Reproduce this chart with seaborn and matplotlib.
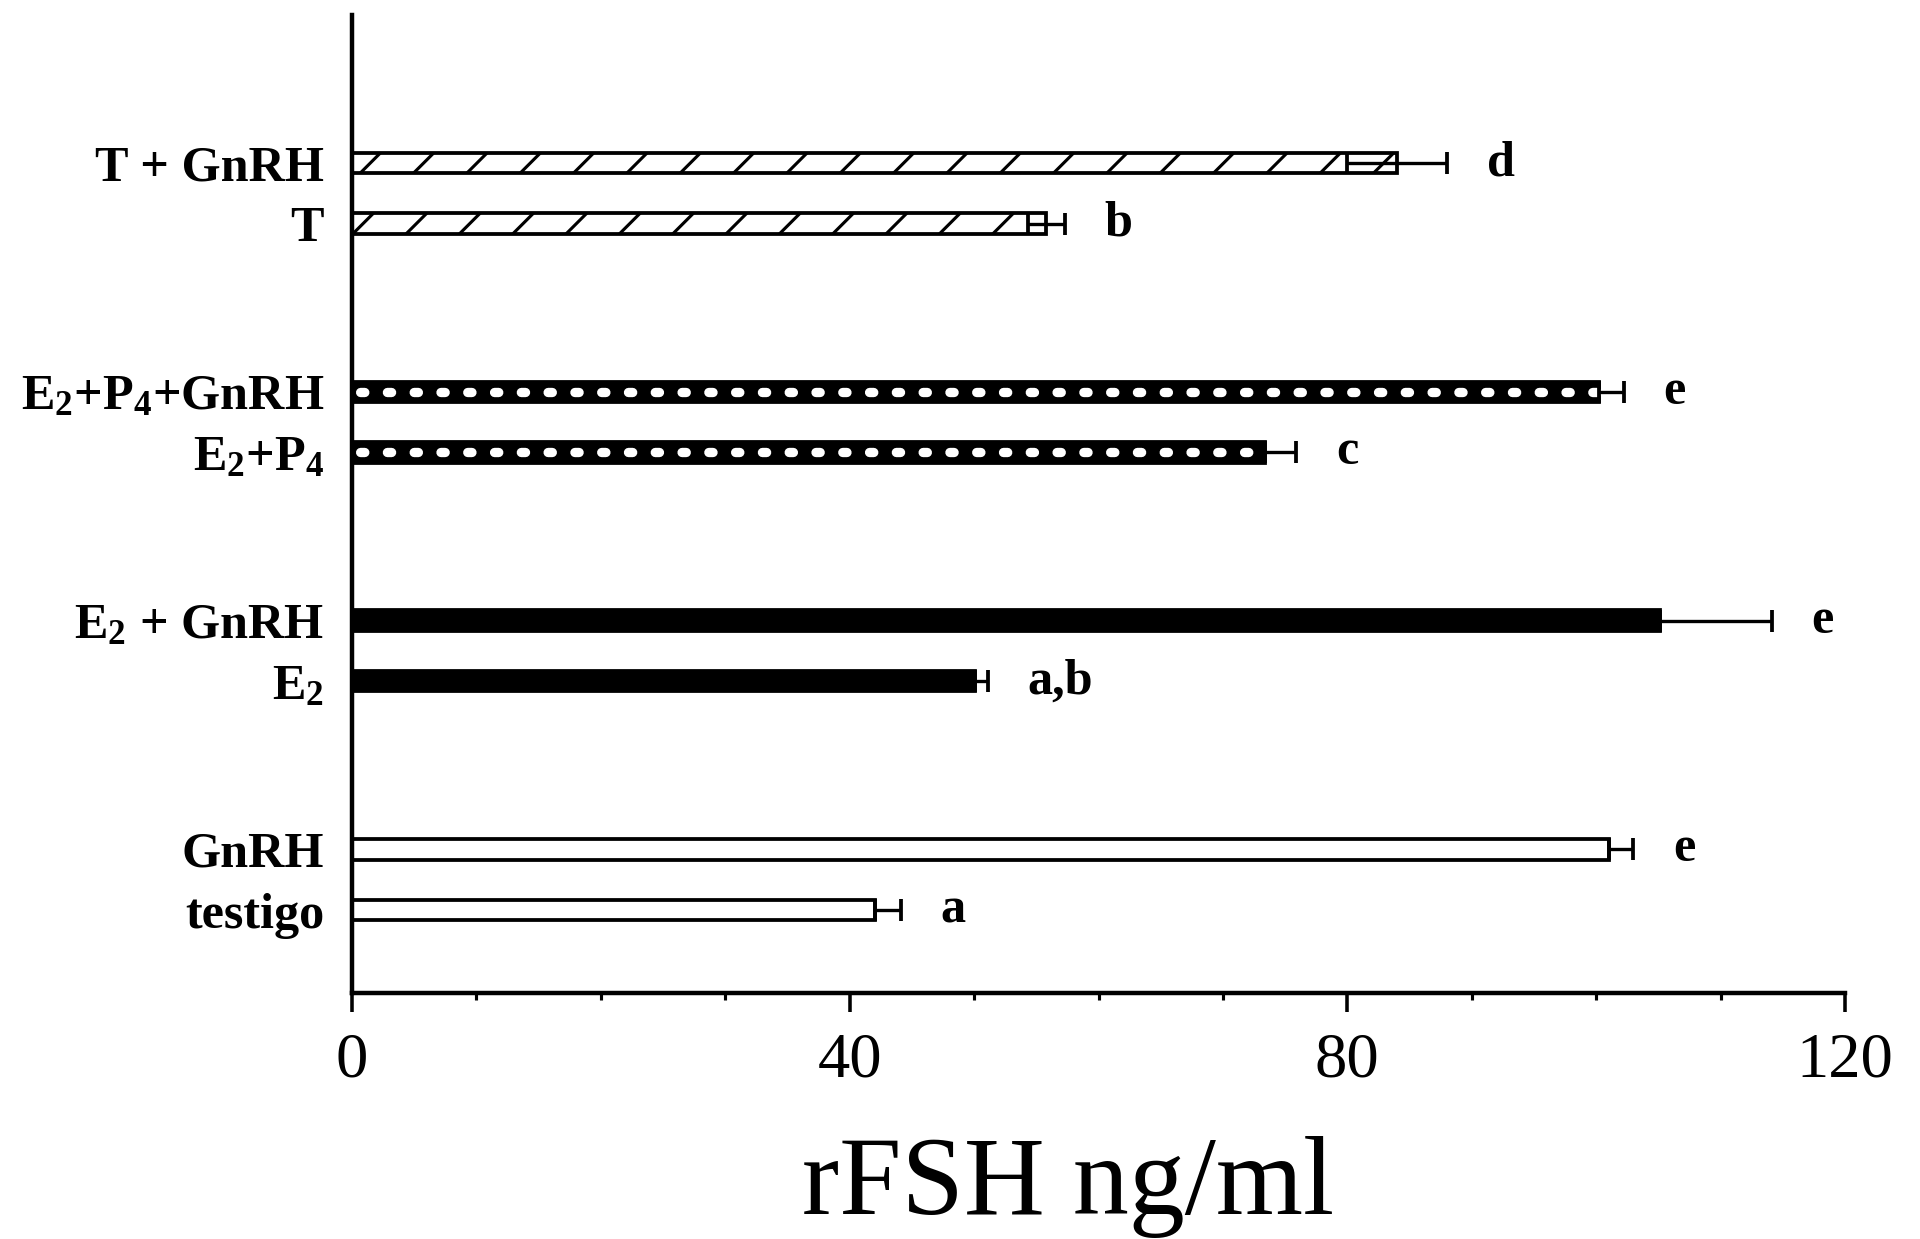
import numpy as np
import pandas as pd
import matplotlib
matplotlib.use("Agg")
import matplotlib.pyplot as plt
from matplotlib.ticker import MultipleLocator
import seaborn as sns

# ---------------- data ----------------
labels = ["T + GnRH", "T",
          r"E$_2$+P$_4$+GnRH", r"E$_2$+P$_4$",
          r"E$_2$ + GnRH", r"E$_2$",
          "GnRH", "testigo"]
groups = ["T", "T", "E2P4", "E2P4", "E2", "E2", "control", "control"]
means = [84.0, 55.8, 100.2, 73.4, 105.1, 50.1, 101.0, 42.0]
err_high = [4.0, 1.5, 2.0, 2.5, 9.0, 1.0, 2.0, 2.1]
err_low = [4.0, 1.5, 0.0, 0.0, 0.0, 0.0, 0.0, 0.0]
letters = ["d", "b", "e", "c", "e", "a,b", "e", "a"]
x_ticks = [0, 40, 80, 120]
x_label = "rFSH ng/ml"

# ---------------- layout / style ----------------
DPI = 320
pair_step = 1.0
group_step = 3.78
group_order = ["T", "E2P4", "E2", "control"]
positions = [gi * group_step + k * pair_step for gi in range(4) for k in range(2)]

styles = {
    "T": dict(color="white", edgecolor="black", hatch="//"),
    "E2P4": dict(color="black", edgecolor="black"),
    "E2": dict(color="black", edgecolor="black"),
    "control": dict(color="white", edgecolor="black"),
}

sns.set_style("ticks")
plt.rcParams["font.family"] = ["Liberation Serif", "DejaVu Serif"]
plt.rcParams["mathtext.fontset"] = "custom"
plt.rcParams["mathtext.rm"] = "Liberation Serif:bold"
plt.rcParams["mathtext.it"] = "Liberation Serif:bold"
plt.rcParams["mathtext.bf"] = "Liberation Serif:bold"
plt.rcParams["hatch.linewidth"] = 0.7

df = pd.DataFrame({"label": labels, "group": groups, "value": means,
                   "pos": positions})

fig = plt.figure(figsize=(1920 / DPI, 1239 / DPI), dpi=DPI)
fig.patch.set_facecolor("white")
left, right = 352 / 1920, 1845 / 1920
bottom, top = 1 - 993 / 1239, 1 - 15 / 1239
ax = fig.add_axes([left, bottom, right - left, top - bottom])
ax.set_facecolor("white")

for g in group_order:
    sub = df[df["group"] == g]
    sns.barplot(data=sub, x="value", y="pos", orient="y", native_scale=True,
                width=0.34, errorbar=None, saturation=1, linewidth=0.85,
                ax=ax, zorder=2, **styles[g])

# white dots inside the dotted bars
for m, p, g in zip(means, positions, groups):
    if g == "E2P4":
        ax.plot([0, m], [p, p], color="white", lw=2.1,
                linestyle=(2.0, (0.45, 2.42)), dash_capstyle="round",
                zorder=3)

ax.errorbar(means, positions, xerr=[err_low, err_high], fmt="none",
            ecolor="black", elinewidth=0.75, capsize=2.4, capthick=0.85,
            zorder=4)

for m, eh, p, t in zip(means, err_high, positions, letters):
    ax.text(m + eh + 3.2, p, t, ha="left", va="center", fontsize=11.3,
            fontweight="bold", color="black")

ax.set_xlim(0, 120)
ax.set_ylim(13.711, -2.445)
ax.set_xticks(x_ticks)
ax.set_xticklabels([str(v) for v in x_ticks])
ax.xaxis.set_minor_locator(MultipleLocator(10))
ax.tick_params(axis="x", which="major", length=4.3, width=0.8, pad=4.5,
               labelsize=14.5, direction="out", colors="black")
ax.tick_params(axis="x", which="minor", length=1.6, width=0.7,
               direction="out", colors="black")
ax.set_yticks(positions)
ax.set_yticklabels(labels, fontsize=11.3, fontweight="bold")
ax.tick_params(axis="y", length=0, pad=6.3, colors="black")
ax.set_xlabel("")
ax.set_ylabel("")

for s in ["top", "right"]:
    ax.spines[s].set_visible(False)
for s in ["left", "bottom"]:
    ax.spines[s].set_linewidth(1.0)
    ax.spines[s].set_color("black")

fig.text(1068 / 1920, 1 - 1214 / 1239, x_label, ha="center", va="baseline",
         fontsize=25.2, color="black")

fig.savefig("out.png", dpi=DPI, facecolor="white")
